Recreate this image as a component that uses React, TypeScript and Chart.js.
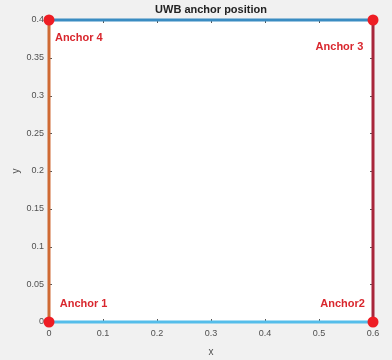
import { useEffect, useRef } from "react";
import { Chart, registerables } from "chart.js";

Chart.register(...registerables);

// Anchor coordinates (m)
const anchorX = [0, 0.6, 0.6, 0];
const anchorY = [0, 0, 0.4, 0.4];
// Edges between anchors: bottom, right, top, left
const edgeFrom = [0, 1, 3, 0];
const edgeTo = [1, 2, 2, 3];
const edgeColors = ["#55BDEA", "#A8263B", "#3A8CC2", "#CF6A34"];
// Anchor text labels (data coords)
const labelText = ["Anchor 1", "Anchor2", "Anchor 3", "Anchor 4"];
const labelX = [0.02, 0.585, 0.582, 0.011];
const labelY = [0.024, 0.024, 0.364, 0.376];
const labelAlign = ["left", "right", "right", "left"];
// Ticks
const xTickValues = [0, 0.1, 0.2, 0.3, 0.4, 0.5, 0.6];
const yTickValues = [0, 0.05, 0.1, 0.15, 0.2, 0.25, 0.3, 0.35, 0.4];
const titleText = "UWB anchor position";
const xTitle = "x";
const yTitle = "y";

const FONT = "'Liberation Sans', Arial, sans-serif";

export default function App() {
  const ref = useRef<HTMLCanvasElement | null>(null);

  useEffect(() => {
    document.body.style.margin = "0";
    const canvas = ref.current!;
    const edgeDatasets = edgeFrom.map((f, i) => ({
      data: [
        { x: anchorX[f], y: anchorY[f] },
        { x: anchorX[edgeTo[i]], y: anchorY[edgeTo[i]] },
      ],
      showLine: true,
      borderColor: edgeColors[i],
      backgroundColor: edgeColors[i],
      borderWidth: 3,
      pointRadius: 0,
      clip: false as any,
    }));
    const markerDataset = {
      data: anchorX.map((x, i) => ({ x, y: anchorY[i] })),
      showLine: false,
      pointRadius: 5.5,
      pointBackgroundColor: "#EE1D24",
      pointBorderColor: "#EE1D24",
      borderWidth: 0,
      clip: false as any,
    };

    const decor = {
      id: "decor",
      beforeDraw(chart: any) {
        const { ctx, chartArea: a } = chart;
        ctx.save();
        ctx.fillStyle = "#f1f1f1";
        ctx.fillRect(0, 0, chart.width, chart.height);
        ctx.fillStyle = "#ffffff";
        ctx.fillRect(a.left, a.top, a.right - a.left, a.bottom - a.top);
        ctx.restore();
      },
      beforeDatasetsDraw(chart: any) {
        const { ctx, chartArea: a, scales } = chart;
        ctx.save();
        ctx.strokeStyle = "#555555";
        ctx.lineWidth = 1;
        ctx.beginPath();
        const tl = 3;
        for (const v of xTickValues) {
          const px = Math.round(scales.x.getPixelForValue(v)) + 0.5;
          ctx.moveTo(px, a.bottom);
          ctx.lineTo(px, a.bottom - tl);
          ctx.moveTo(px, a.top);
          ctx.lineTo(px, a.top + tl);
        }
        for (const v of yTickValues) {
          const py = Math.round(scales.y.getPixelForValue(v)) + 0.5;
          ctx.moveTo(a.left, py);
          ctx.lineTo(a.left + tl, py);
          ctx.moveTo(a.right, py);
          ctx.lineTo(a.right - tl, py);
        }
        ctx.stroke();
        ctx.restore();
      },
      afterDraw(chart: any) {
        const { ctx, chartArea: a, scales } = chart;
        ctx.save();
        // title
        ctx.fillStyle = "#222222";
        ctx.font = `bold 11px ${FONT}`;
        ctx.textAlign = "center";
        ctx.textBaseline = "middle";
        ctx.fillText(titleText, (a.left + a.right) / 2, 10);
        // axis titles
        ctx.fillStyle = "#505050";
        ctx.font = `10px ${FONT}`;
        ctx.fillText(xTitle, (a.left + a.right) / 2, 352);
        ctx.save();
        ctx.translate(16, (a.top + a.bottom) / 2);
        ctx.rotate(-Math.PI / 2);
        ctx.fillText(yTitle, 0, 0);
        ctx.restore();
        // anchor labels
        ctx.fillStyle = "#D9272E";
        ctx.font = `bold 11px ${FONT}`;
        ctx.textBaseline = "middle";
        labelText.forEach((t, i) => {
          ctx.textAlign = labelAlign[i] as CanvasTextAlign;
          ctx.fillText(
            t,
            scales.x.getPixelForValue(labelX[i]),
            scales.y.getPixelForValue(labelY[i])
          );
        });
        ctx.restore();
      },
    };

    const fmt = (v: any) => String(+Number(v).toFixed(2));

    const chart = new Chart(canvas, {
      type: "scatter",
      data: { datasets: [markerDataset as any, ...edgeDatasets] },
      options: {
        responsive: false,
        animation: false,
        devicePixelRatio: 1,
        layout: { padding: { top: 20, right: 19, left: 0, bottom: 0 } },
        plugins: {
          legend: { display: false },
          tooltip: { enabled: false },
          title: { display: false },
        },
        scales: {
          x: {
            type: "linear",
            min: 0,
            max: 0.6,
            grid: { display: false, drawTicks: false },
            border: { display: false },
            afterBuildTicks: (s: any) => {
              s.ticks = xTickValues.map((v) => ({ value: v }));
            },
            afterFit: (s: any) => {
              s.height = 38;
            },
            ticks: {
              padding: 6,
              color: "#505050",
              font: { family: FONT, size: 9 },
              callback: fmt,
              maxRotation: 0,
              autoSkip: false,
            },
          },
          y: {
            type: "linear",
            min: 0,
            max: 0.4,
            grid: { display: false, drawTicks: false },
            border: { display: false },
            afterBuildTicks: (s: any) => {
              s.ticks = yTickValues.map((v) => ({ value: v }));
            },
            afterFit: (s: any) => {
              s.width = 49;
            },
            ticks: {
              padding: 5,
              color: "#505050",
              font: { family: FONT, size: 9 },
              callback: fmt,
              autoSkip: false,
            },
          },
        },
      },
      plugins: [decor],
    });
    return () => chart.destroy();
  }, []);

  return (
    <div style={{ position: "absolute", left: 0, top: 0, width: 392, height: 360 }}>
      <canvas ref={ref} width={392} height={360} style={{ width: 392, height: 360, display: "block" }} />
    </div>
  );
}
